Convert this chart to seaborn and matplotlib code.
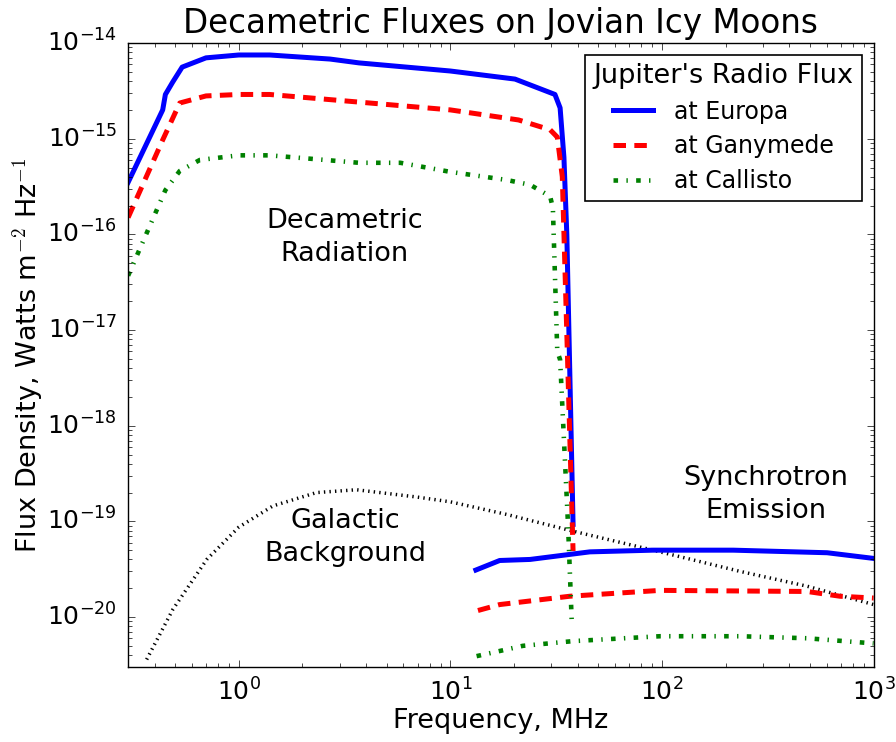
import matplotlib
matplotlib.use("Agg")
import matplotlib.pyplot as plt
import seaborn as sns
import pandas as pd

plt.style.use("classic")
plt.rcParams.update({
    "figure.facecolor": "white",
    "savefig.facecolor": "white",
    "axes.unicode_minus": False,
    "font.family": ["DejaVu Sans"],
})

# Jovian decametric emission (MHz, W m^-2 Hz^-1)
dam_freq_europa = [0.3, 0.437, 0.45, 0.487, 0.54, 0.70, 1.0, 1.4, 2.7, 3.7, 10.0, 20.2, 31.2, 33.0, 34.4, 35.5, 38.0]
dam_flux_europa = [3.5e-16, 2.0e-15, 2.9e-15, 3.9e-15, 5.6e-15, 7.0e-15, 7.5e-15, 7.5e-15, 6.8e-15, 6.2e-15,
                   5.1e-15, 4.2e-15, 2.9e-15, 2.1e-15, 6.4e-16, 1.0e-16, 9.3e-20]

dam_freq_ganymede = [0.3, 0.437, 0.526, 0.70, 1.0, 1.4, 10.0, 21.0, 29.6, 32.0, 33.8, 38.0]
dam_flux_ganymede = [1.5e-16, 9.7e-16, 2.36e-15, 2.8e-15, 2.9e-15, 2.9e-15, 2.0e-15, 1.57e-15, 1.24e-15,
                     1.04e-15, 4.0e-16, 4.9e-20]

dam_freq_callisto = [0.3, 0.45, 0.526, 0.655, 1.0, 1.4, 3.7, 5.8, 10.0, 18.5, 23.8, 29.6, 30.5, 32.0, 33.0, 36.0, 37.5]
dam_flux_callisto = [3.7e-17, 2.9e-16, 4.6e-16, 6.0e-16, 6.7e-16, 6.7e-16, 5.6e-16, 5.6e-16, 4.5e-16, 3.7e-16,
                     3.3e-16, 2.5e-16, 1.9e-16, 6.0e-18, 4.9e-18, 8.9e-20, 8.3e-21]

# Synchrotron emission from the radiation belts
syn_freq_europa = [13.2, 17.1, 23.8, 45.6, 90.6, 217.0, 603.0, 1000.0]
syn_flux_europa = [3.1e-20, 3.9e-20, 4.0e-20, 4.8e-20, 5.0e-20, 5.0e-20, 4.7e-20, 4.1e-20]

syn_freq_ganymede = [13.5, 17.1, 36.7, 98.0, 485.0, 693.0, 1000.0]
syn_flux_ganymede = [1.17e-20, 1.35e-20, 1.65e-20, 1.9e-20, 1.85e-20, 1.65e-20, 1.58e-20]

syn_freq_callisto = [13.3, 22.0, 38.0, 98.0, 234.0, 485.0, 1000.0]
syn_flux_callisto = [3.9e-21, 5.0e-21, 5.6e-21, 6.3e-21, 6.3e-21, 6.0e-21, 5.3e-21]

# Galactic background
gal_freq = [0.367, 0.488, 0.706, 1.0, 1.45, 2.33, 3.6, 6.9, 10.0, 18.5, 38.0, 98.0, 234.0, 485.0, 1000.0]
gal_flux = [3.6e-21, 1.2e-20, 4.0e-20, 8.7e-20, 1.45e-19, 2.0e-19, 2.14e-19, 1.8e-19, 1.6e-19, 1.18e-19,
            7.9e-20, 4.8e-20, 3.0e-20, 2.1e-20, 1.35e-20]

# Major tick positions
x_ticks = [1, 10, 100, 1000]
y_ticks = [1e-20, 1e-19, 1e-18, 1e-17, 1e-16, 1e-15, 1e-14]

moons = ["at Europa", "at Ganymede", "at Callisto"]
styles = {
    "at Europa": dict(color="#0000ff", lw=3.6, ls="-"),
    "at Ganymede": dict(color="#ff0000", lw=3.6, ls=(0, (9, 6))),
    "at Callisto": dict(color="#008000", lw=3.3, ls=(0, (3.3, 6, 1, 6))),
}
dam = {
    "at Europa": (dam_freq_europa, dam_flux_europa),
    "at Ganymede": (dam_freq_ganymede, dam_flux_ganymede),
    "at Callisto": (dam_freq_callisto, dam_flux_callisto),
}
syn = {
    "at Europa": (syn_freq_europa, syn_flux_europa),
    "at Ganymede": (syn_freq_ganymede, syn_flux_ganymede),
    "at Callisto": (syn_freq_callisto, syn_flux_callisto),
}

fig = plt.figure(figsize=(8.96, 7.42), dpi=100)
ax = fig.add_axes([0.143, 0.101, 0.832, 0.841])

sns.lineplot(data=pd.DataFrame({"f": gal_freq, "s": gal_flux}), x="f", y="s", ax=ax,
             color="black", lw=2.5, ls=(0, (1, 3)), estimator=None, sort=False)

handles = []
for m in moons:
    st = styles[m]
    f, s = dam[m]
    sns.lineplot(data=pd.DataFrame({"f": f, "s": s}), x="f", y="s", ax=ax,
                 color=st["color"], lw=st["lw"], ls=st["ls"], estimator=None, sort=False)
    handles.append(ax.lines[-1])
    f, s = syn[m]
    sns.lineplot(data=pd.DataFrame({"f": f, "s": s}), x="f", y="s", ax=ax,
                 color=st["color"], lw=st["lw"], ls=st["ls"], estimator=None, sort=False)

ax.set_xscale("log")
ax.set_yscale("log")
ax.set_xticks(x_ticks)
ax.set_yticks(y_ticks)
ax.set_xlim(0.3, 1000)
ax.set_ylim(3e-21, 1e-14)

ax.set_title("Decametric Fluxes on Jovian Icy Moons", fontsize=23.5, y=1.005)
ax.set_xlabel("Frequency, MHz", fontsize=19.5, labelpad=2)
ax.set_ylabel("Flux Density, Watts m$^{-2}$ Hz$^{-1}$", fontsize=19.5, labelpad=1)
ax.tick_params(axis="both", which="major", labelsize=18, length=5, pad=8)
ax.tick_params(axis="both", which="minor", length=3)
ax.xaxis.get_offset_text().set_visible(False)
ax.yaxis.get_offset_text().set_visible(False)

txt = dict(fontsize=19.5, ha="center", va="center", multialignment="center", linespacing=1.35)
ax.text(3.15, 9.3e-17, "Decametric\nRadiation", **txt)
ax.text(3.2, 6.8e-20, "Galactic\nBackground", **txt)
ax.text(310, 1.9e-19, "Synchrotron\nEmission", **txt)

leg = ax.legend(handles, moons, title="Jupiter's Radio Flux", loc="upper right", fontsize=17,
                title_fontsize=19.5, handlelength=1.7, handletextpad=0.9, frameon=True,
                fancybox=False, shadow=False, borderaxespad=0.5, numpoints=1,
                labelspacing=0.45, borderpad=0.35)
leg.get_frame().set_edgecolor("black")
leg.get_frame().set_linewidth(1.2)

fig.savefig("out.png", dpi=100)
